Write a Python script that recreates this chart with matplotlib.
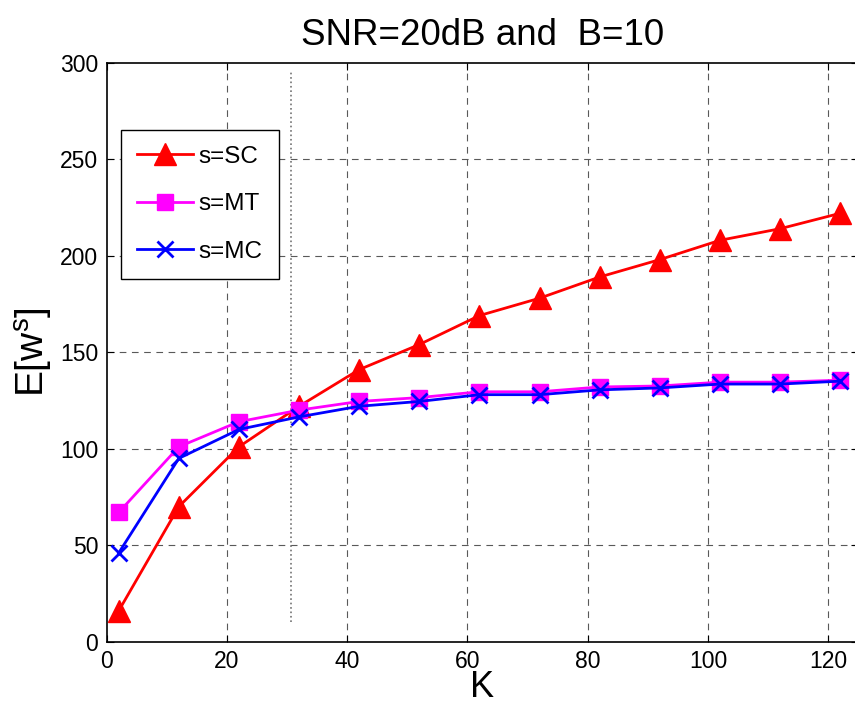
import matplotlib
matplotlib.use("Agg")
import matplotlib.pyplot as plt

# data
K = [2, 12, 22, 32, 42, 52, 62, 72, 82, 92, 102, 112, 122]
e_sc = [16, 70, 101, 122, 141, 154, 169, 178, 189, 198, 208, 214, 222]
e_mt = [67, 101, 114, 120, 124.5, 126.5, 129.5, 129.5, 132, 132.5, 134.5, 134.5, 135.5]
e_mc = [46, 95, 110, 116.5, 122, 124.5, 128, 128, 130.5, 131.5, 133.5, 133.5, 135]

# vertical dotted marker line
k_thresh = 30.6
thresh_span = [10, 295]

xticks = [0, 20, 40, 60, 80, 100, 120]
yticks = [0, 50, 100, 150, 200, 250, 300]

plt.rcParams["font.family"] = ["Liberation Sans", "DejaVu Sans"]
plt.rcParams["mathtext.default"] = "regular"

fig = plt.figure(figsize=(8.55, 7.06), dpi=100)
ax = fig.add_axes([0.1248, 0.0911, 0.879, 0.820])

grid_kw = dict(color="0.35", linewidth=0.8, dashes=(6, 5), zorder=0)
for x in xticks[1:]:
    ax.axvline(x, **grid_kw)
for y in yticks[1:-1]:
    ax.axhline(y, **grid_kw)

ax.plot([k_thresh, k_thresh], thresh_span, color="0.45", linestyle=":", linewidth=1.2, zorder=1)

ax.plot(K, e_sc, color="red", marker="^", markersize=16, linewidth=2.0, label="s=SC", zorder=3)
ax.plot(K, e_mt, color="magenta", marker="s", markersize=12, linewidth=2.0, label="s=MT", zorder=3)
ax.plot(K, e_mc, color="blue", marker="x", markersize=11, markeredgewidth=2.0, linewidth=2.0,
        label="s=MC", zorder=4)

ax.set_xlim(0, 125)
ax.set_ylim(0, 300)
ax.set_xticks(xticks)
ax.set_yticks(yticks)
ax.tick_params(direction="in", length=5, width=0.8, top=True, right=True, labelsize=16.5, pad=6)
for sp in ax.spines.values():
    sp.set_linewidth(1.2)

ax.set_title("SNR=20dB and  B=10", fontsize=26.5, pad=13)
ax.set_xlabel("K", fontsize=26, labelpad=-2)
ax.set_ylabel(r"E[w$^{s}$]", fontsize=28, labelpad=4)

leg = ax.legend(loc="upper left", bbox_to_anchor=(0.019, 0.884), borderaxespad=0, fontsize=17.5,
                numpoints=1, handlelength=2.3, labelspacing=1.05, handletextpad=0.25,
                borderpad=0.65, fancybox=False, framealpha=1, edgecolor="black")
leg.get_frame().set_linewidth(1.0)

plt.savefig("out.png", dpi=100)
plt.close()
